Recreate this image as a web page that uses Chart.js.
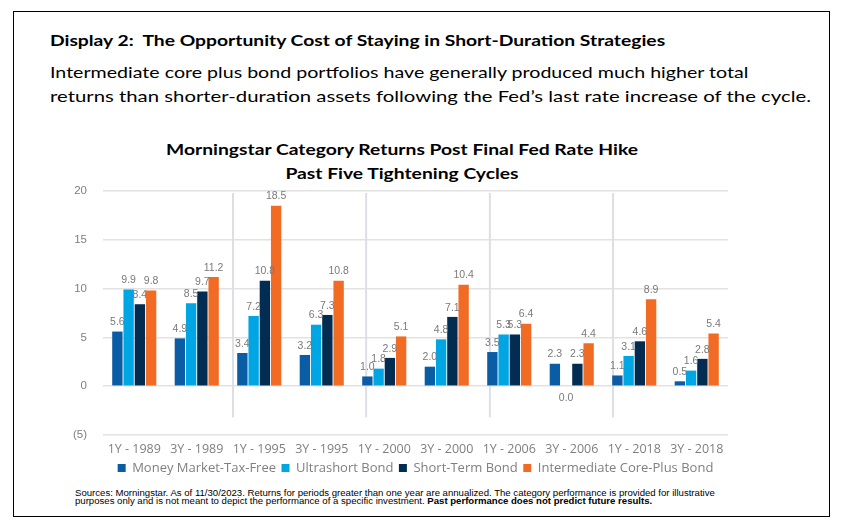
<!DOCTYPE html>
<html>
<head>
<meta charset="utf-8">
<script src="https://cdn.jsdelivr.net/npm/chart.js@4.4.1/dist/chart.umd.min.js"></script>
<style>
    html, body {
        margin: 0;
        padding: 0;
        background: #fff;
    }
    body {
        position: relative;
        width: 843px;
        height: 527px;
        overflow: hidden;
        font-family: 'Lato', sans-serif;
        color: #000;
    }
    .frame {
        position: absolute;
        left: 13px;
        top: 11px;
        width: 817px;
        height: 506px;
        border: 1.5px solid #000;
        box-sizing: border-box;
    }
    .txt {
        position: absolute;
        white-space: nowrap;
        transform-origin: left center;
    }
    .display__title {
        left: 50px;
        top: 28px;
        font-size: 16px;
        line-height: 24px;
        font-weight: 700;
        transform: scaleX(1.205);
    }
    .display__sub {
        left: 50px;
        font-size: 16px;
        line-height: 24px;
    }
    .chart__title {
        left: 402px;
        font-size: 16px;
        line-height: 24px;
        font-weight: 700;
        transform-origin: center center;
        transform: translateX(-50%) scaleX(1.205);
    }
    .source {
        left: 75px;
        top: 489px;
        font-family: 'Liberation Sans', Arial, sans-serif;
        font-size: 8.4px;
        line-height: 8px;
        color: #000;
        transform: scaleX(1.145);
    }
    #chart {
        position: absolute;
        left: 0;
        top: 0;
    }
</style>
</head>
<body>
<div class="frame"></div>
<div class="txt display__title">Display 2:&nbsp; The Opportunity Cost of Staying in Short-Duration Strategies</div>
<div class="txt display__sub" style="top: 60px; transform: scaleX(1.225);">Intermediate core plus bond portfolios have generally produced much higher total</div>
<div class="txt display__sub" style="top: 84px; transform: scaleX(1.27);">returns than shorter-duration assets following the Fed’s last rate increase of the cycle.</div>
<div class="txt chart__title" style="top: 137px;">Morningstar Category Returns Post Final Fed Rate Hike</div>
<div class="txt chart__title" style="top: 161px;">Past Five Tightening Cycles</div>
<div class="txt source">Sources: Morningstar. As of 11/30/2023. Returns for periods greater than one year are annualized. The category performance is provided for illustrative<br>purposes only and is not meant to depict the performance of a specific investment. <b>Past performance does not predict future results.</b></div>
<canvas id="chart" width="843" height="527"></canvas>

<script>
const categories = ['1Y - 1989', '3Y - 1989', '1Y - 1995', '3Y - 1995', '1Y - 2000', '3Y - 2000', '1Y - 2006', '3Y - 2006', '1Y - 2018', '3Y - 2018'];
const moneyMarket = [5.6, 4.9, 3.4, 3.2, 1.0, 2.0, 3.5, 2.3, 1.1, 0.5];
const ultrashort = [9.9, 8.5, 7.2, 6.3, 1.8, 4.8, 5.3, 0.0, 3.1, 1.6];
const shortTerm = [8.4, 9.7, 10.8, 7.3, 2.9, 7.1, 5.3, 2.3, 4.6, 2.8];
const corePlus = [9.8, 11.2, 18.5, 10.8, 5.1, 10.4, 6.4, 4.4, 8.9, 5.4];
const yMin = -5;
const yMax = 20;
const yStep = 5;
// faint separators between the tightening cycles (in category units)
const cycleBreaks = [1.58, 3.71, 5.69, 7.66];
const breakBottom = -3.2;

// value labels above bars
const valueLabels = {
    id: 'valueLabels',
    afterDatasetsDraw(chart) {
        const { ctx } = chart;
        ctx.save();
        ctx.font = '10.5px "Liberation Sans", Arial, sans-serif';
        ctx.fillStyle = '#7a7a7a';
        ctx.textAlign = 'center';
        chart.data.datasets.forEach((ds, i) => {
            chart.getDatasetMeta(i).data.forEach((bar, j) => {
                const v = ds.data[j];
                if (v === 0) {
                    ctx.textBaseline = 'top';
                    ctx.fillText(v.toFixed(1), bar.x, bar.y + 7);
                } else {
                    ctx.textBaseline = 'bottom';
                    ctx.fillText(v.toFixed(1), bar.x, bar.y - 4);
                }
            });
        });
        ctx.restore();
    }
};

const cycleLines = {
    id: 'cycleLines',
    beforeDatasetsDraw(chart) {
        const { ctx, scales: { x, y } } = chart;
        ctx.save();
        ctx.strokeStyle = '#dcdfe6';
        ctx.lineWidth = 2;
        cycleBreaks.forEach((pos) => {
            const px = x.getPixelForValue(pos);
            ctx.beginPath();
            ctx.moveTo(px, y.getPixelForValue(yMax) + 2);
            ctx.lineTo(px, y.getPixelForValue(breakBottom));
            ctx.stroke();
        });
        ctx.restore();
    }
};

const ctx = document.getElementById('chart');
new Chart(ctx, {
    type: 'bar',
    data: {
        labels: categories,
        datasets: [
            { label: 'Money Market-Tax-Free', data: moneyMarket, backgroundColor: '#0a5ca4' },
            { label: 'Ultrashort Bond', data: ultrashort, backgroundColor: '#00a5e3' },
            { label: 'Short-Term Bond', data: shortTerm, backgroundColor: '#022c52' },
            { label: 'Intermediate Core-Plus Bond', data: corePlus, backgroundColor: '#f26b24' },
        ]
    },
    options: {
        responsive: false,
        animation: false,
        events: [],
        categoryPercentage: 0.72,
        barPercentage: 0.92,
        layout: {
            padding: { top: 191, left: 0, right: 115, bottom: 42.5 }
        },
        scales: {
            x: {
                grid: { display: false, drawTicks: false },
                border: { display: false },
                afterFit: (scale) => { scale.height = 21; },
                ticks: {
                    autoSkip: false,
                    maxRotation: 0,
                    padding: 8,
                    color: '#7f7f7f',
                    font: { family: 'Open Sans', size: 12.5, lineHeight: 1 }
                }
            },
            y: {
                min: yMin,
                max: yMax,
                afterFit: (scale) => { scale.width = 103; },
                border: { display: false },
                grid: {
                    color: '#e2e2e2',
                    lineWidth: 1.5,
                    drawTicks: false,
                },
                ticks: {
                    stepSize: yStep,
                    padding: 16,
                    color: '#7f7f7f',
                    font: { family: 'Liberation Sans', size: 11.5 },
                    callback: (value) => value < 0 ? '(' + (-value) + ')' : value
                }
            }
        },
        plugins: {
            title: { display: false },
            tooltip: { enabled: false },
            legend: {
                position: 'bottom',
                fullSize: false,
                labels: {
                    boxWidth: 8,
                    boxHeight: 8,
                    padding: 5.5,
                    color: '#7f7f7f',
                    font: { family: 'Open Sans', size: 13 }
                }
            }
        }
    },
    plugins: [cycleLines, valueLabels]
});
</script>
</body>
</html>
